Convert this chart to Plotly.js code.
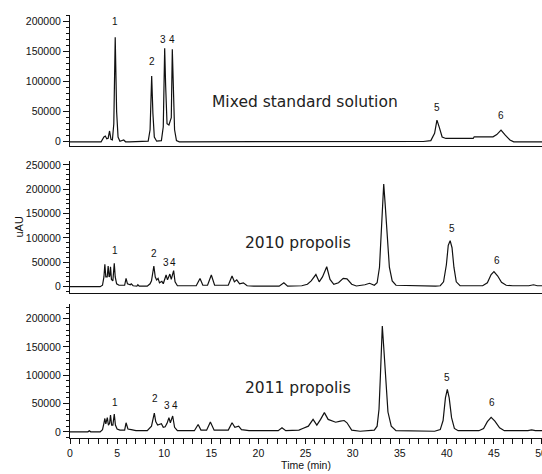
<!DOCTYPE html>
<html>
<head>
<meta charset="utf-8">
<script src="https://cdn.plot.ly/plotly-3.0.1.min.js"></script>
<style>html,body{margin:0;padding:0;background:#fff;}#chart{width:542px;height:474px;}</style>
</head>
<body>
<div id="chart"></div>
<script>
// ---- Data (time in min, signal in uAU) ----
const stdTime = [0, 3.3, 3.6, 3.75, 3.9, 4.05, 4.2, 4.35, 4.5, 4.65, 4.8, 4.95, 5.1, 5.3, 5.7, 5.9, 6.3, 8.3, 8.5, 8.67, 8.8, 8.95, 9.2, 9.7, 9.9, 10.05, 10.15, 10.3, 10.5, 10.75, 10.86, 10.95, 11.1, 11.3, 11.6, 37.5, 38.3, 38.7, 38.95, 39.2, 39.5, 39.9, 42.8, 42.9, 44.9, 45.3, 45.75, 46.2, 46.7, 47.1, 50.5];
const stdSignal = [0, 0, 8000, 9500, 5000, 6000, 18000, 4000, 3000, 30000, 174000, 50000, 8000, 1000, 3000, 0, 0, 1000, 20000, 109500, 47000, 8000, 1000, 2000, 25000, 155600, 94500, 30000, 28000, 40000, 154000, 97000, 20000, 2000, 0, 500, 2000, 14000, 36000, 24000, 8000, 5600, 5600, 8300, 8300, 12000, 19500, 11000, 3000, 0, 0];

const p2010Time = [0, 3.2, 3.45, 3.6, 3.7, 3.8, 3.95, 4.05, 4.15, 4.22, 4.3, 4.4, 4.55, 4.7, 4.8, 4.95, 5.2, 5.8, 5.95, 6.1, 6.4, 6.5, 6.7, 7.1, 7.2, 7.35, 8.2, 8.5, 8.65, 8.9, 9.05, 9.2, 9.35, 9.5, 9.75, 9.9, 10.2, 10.35, 10.6, 10.75, 11.0, 11.15, 11.4, 13.4, 13.8, 14.1, 14.6, 15.0, 15.35, 16.8, 17.2, 17.45, 17.7, 18.0, 18.4, 18.8, 19.5, 22.2, 22.7, 23.1, 24.6, 25.2, 25.6, 26.1, 26.45, 26.8, 27.25, 27.6, 28.0, 28.5, 29.0, 29.4, 29.9, 30.4, 31.3, 31.8, 32.3, 32.6, 32.85, 33.0, 33.15, 33.3, 33.45, 33.65, 33.9, 34.2, 34.6, 38.8, 39.3, 39.65, 39.95, 40.15, 40.35, 40.55, 40.75, 41.0, 41.4, 43.8, 44.3, 44.7, 45.0, 45.4, 45.8, 46.3, 47.0, 48.7, 49.2, 49.6, 50.5];
const p2010Signal = [0, 0, 3000, 20000, 46000, 20000, 20000, 42500, 20000, 22000, 41000, 15000, 12000, 48000, 20000, 6000, 3000, 3000, 17000, 6000, 4000, 6000, 2000, 1000, 4000, 1000, 1000, 6000, 12000, 42500, 20000, 14000, 17000, 8000, 11000, 6000, 24000, 14000, 26000, 15000, 33000, 10000, 2000, 2000, 17000, 3000, 3000, 24000, 3000, 3000, 22000, 10000, 14000, 6000, 8000, 2000, 1000, 1000, 8000, 1000, 2000, 5000, 12000, 25000, 10000, 20000, 41000, 15000, 5000, 8000, 17000, 16000, 5000, 1500, 4000, 7000, 3000, 8000, 40000, 100000, 170000, 211000, 170000, 100000, 40000, 12000, 3000, 1000, 2000, 10000, 45000, 85000, 94500, 80000, 40000, 10000, 2000, 2000, 8000, 25000, 31000, 22000, 9000, 3000, 2000, 2000, 4000, 2000, 2000];

const p2011Time = [0, 1.9, 2.05, 2.2, 3.2, 3.45, 3.6, 3.7, 3.8, 3.96, 4.08, 4.2, 4.3, 4.42, 4.55, 4.7, 4.82, 5.0, 5.3, 5.8, 5.95, 6.15, 6.5, 7.0, 8.2, 8.5, 8.65, 8.95, 9.1, 9.3, 9.7, 9.9, 10.1, 10.3, 10.5, 10.65, 10.9, 11.1, 11.4, 13.2, 13.6, 13.9, 14.5, 14.9, 15.3, 16.8, 17.2, 17.5, 17.9, 18.2, 19.0, 22.1, 22.5, 22.9, 24.3, 24.7, 25.3, 25.8, 26.2, 26.6, 27.0, 27.4, 27.8, 28.2, 28.7, 29.1, 29.4, 29.9, 30.8, 31.5, 32.3, 32.6, 32.8, 32.95, 33.05, 33.15, 33.3, 33.5, 33.75, 34.1, 34.6, 38.7, 39.3, 39.6, 39.85, 40.05, 40.25, 40.5, 40.8, 41.2, 43.4, 43.9, 44.3, 44.7, 45.1, 45.6, 46.1, 48.6, 49.0, 49.4, 50.5];
const p2011Signal = [0, 0, 2000, 0, 0, 4000, 15000, 23600, 14000, 25000, 12000, 15000, 29600, 12000, 12000, 31500, 12000, 5000, 3000, 3000, 16000, 5000, 4000, 2000, 2000, 8000, 10000, 33000, 18000, 12000, 14500, 8000, 9000, 15000, 25000, 16000, 28000, 8000, 2000, 2000, 13000, 3000, 3000, 17500, 3000, 3000, 16000, 8000, 10000, 4000, 2000, 2000, 7000, 2000, 3000, 6000, 10000, 22000, 12000, 22000, 34000, 22000, 20000, 17000, 19000, 20000, 16000, 3000, 1000, 2000, 3000, 10000, 40000, 100000, 160000, 187000, 150000, 90000, 35000, 10000, 2000, 1000, 4000, 20000, 60000, 75000, 60000, 25000, 6000, 2000, 2000, 6000, 18000, 25500, 19000, 7000, 2000, 2000, 3500, 2000, 2000];

const panelNames = ["Mixed standard solution", "2010 propolis", "2011 propolis"];
const peakLabels = ["1", "2", "3", "4", "5", "6"];
const xTickVals = [0, 5, 10, 15, 20, 25, 30, 35, 40, 45, 50];

// ---- Layout helpers ----
const FONT_TICK = {family: "Liberation Sans, Arial, sans-serif", size: 10.5, color: "#111"};
const FONT_PEAK = {family: "Liberation Sans, Arial, sans-serif", size: 10, color: "#111"};
const FONT_NAME = {family: "DejaVu Sans, Verdana, sans-serif", size: 15.5, color: "#222"};

const series = [[stdTime, stdSignal], [p2010Time, p2010Signal], [p2011Time, p2011Signal]];
const traces = series.map((s, i) => ({
  x: s[0], y: s[1], type: "scatter", mode: "lines",
  line: {color: "#111", width: 1.2},
  xaxis: i === 0 ? "x" : "x" + (i + 1),
  yaxis: i === 0 ? "y" : "y" + (i + 1),
  hoverinfo: "skip", showlegend: false
}));

const yDomains = [[0.690, 1.0], [0.3435, 0.6548], [0, 0.3168]];
const yRanges = [[-7200, 211000], [-12300, 258000], [-10900, 226000]];

const layout = {
  width: 542, height: 474,
  margin: {l: 70, r: 0, t: 15, b: 36},
  paper_bgcolor: "#fff", plot_bgcolor: "#fff",
  showlegend: false,
  annotations: []
};

for (let i = 0; i < 3; i++) {
  const xa = i === 0 ? "xaxis" : "xaxis" + (i + 1);
  const ya = i === 0 ? "yaxis" : "yaxis" + (i + 1);
  const yref = i === 0 ? "y" : "y" + (i + 1);
  const last = i === 2;
  layout[xa] = {
    domain: [0, 1], range: [0, 50.1], anchor: yref,
    showline: true, linecolor: "#111", linewidth: 1,
    showgrid: false, zeroline: false, fixedrange: true,
    ticks: last ? "outside" : "", ticklen: 5, tickcolor: "#111",
    tickvals: xTickVals, showticklabels: last,
    ticklabeloverflow: "allow",
    tickfont: FONT_TICK,
    minor: last ? {dtick: 1, ticks: "outside", ticklen: 5, tickcolor: "#111", showgrid: false} : undefined,
    title: last ? {text: "Time (min)", font: {family: "Liberation Sans, Arial, sans-serif", size: 10.5, color: "#111"}, standoff: 3} : undefined
  };
  layout[ya] = {
    domain: yDomains[i], range: yRanges[i], anchor: i === 0 ? "x" : "x" + (i + 1),
    showline: true, linecolor: "#111", linewidth: 1,
    showgrid: false, zeroline: false, fixedrange: true,
    ticks: "outside", ticklen: 6, tickcolor: "#111",
    tick0: 0, dtick: 50000, tickformat: "d",
    tickfont: FONT_TICK,
    minor: {dtick: 10000, ticks: "outside", ticklen: 3, tickcolor: "#111", showgrid: false},
    title: i === 1 ? {text: "uAU", font: {family: "Liberation Sans, Arial, sans-serif", size: 11, color: "#111"}, standoff: 0} : undefined
  };
}

// peak-label positions [time, signal] per panel (layout, not data)
const peakPos = [
  [[4.78, 200000], [8.7, 133300], [9.87, 169500], [10.83, 169500], [38.96, 57800], [45.72, 44500]],
  [[4.78, 73300], [8.92, 67200], [10.19, 48700], [10.97, 48700], [40.52, 118500], [45.33, 54800]],
  [[4.78, 52700], [9.02, 58700], [10.33, 46500], [11.15, 46500], [40.05, 96900], [44.77, 51500]]
];
const namePos = [[24.95, 66700], [24.2, 90400], [24.24, 78200]];

for (let i = 0; i < 3; i++) {
  const xref = i === 0 ? "x" : "x" + (i + 1);
  const yref = i === 0 ? "y" : "y" + (i + 1);
  peakLabels.forEach((lab, k) => {
    layout.annotations.push({x: peakPos[i][k][0], y: peakPos[i][k][1], xref, yref,
      text: lab, showarrow: false, font: FONT_PEAK});
  });
  layout.annotations.push({x: namePos[i][0], y: namePos[i][1], xref, yref,
    text: panelNames[i], showarrow: false, font: FONT_NAME});
}

Plotly.newPlot("chart", traces, layout, {displayModeBar: false, staticPlot: true});
</script>
</body>
</html>
